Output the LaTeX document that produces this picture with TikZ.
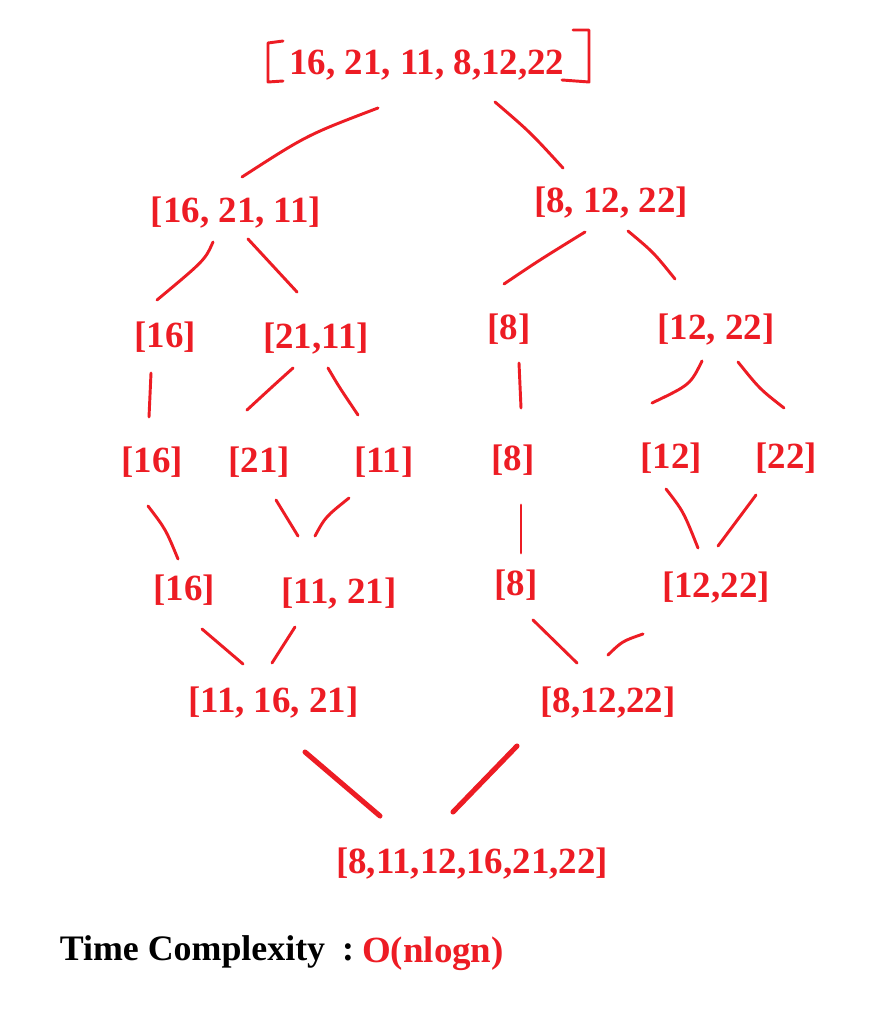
\documentclass[tikz,border=0pt]{standalone}
\usepackage{fontspec}
\setmainfont{Liberation Serif}
\definecolor{pred}{RGB}{237,28,36}
\tikzset{
  lbl/.style={anchor=base, inner sep=0pt, text=pred, font=\fontsize{27.7pt}{32pt}\selectfont\bfseries},
  blk/.style={anchor=base, inner sep=0pt, text=black, font=\fontsize{26.9pt}{32pt}\selectfont\bfseries},
  conn/.style={draw=pred, line width=2.2pt, line cap=round, line join=round},
  thick conn/.style={draw=pred, line width=3.8pt, line cap=round}
}
\begin{document}
\begin{tikzpicture}[x=0.75pt, y=-0.75pt]
\fill[white] (0,0) rectangle (875,1020);
\useasboundingbox (0,0) rectangle (875,1020);

% nodes
\node[lbl] (top) at (427,75) {16, 21, 11, 8,12,22};
\node[lbl] (L) at (236,222) {[16, 21, 11]};
\node[lbl] (R) at (611,212) {[8, 12, 22]};
\node[lbl] (LL) at (165,347) {[16]};
\node[lbl] (LR) at (316,348) {[21,11]};
\node[lbl] (RL) at (509,339) {[8]};
\node[lbl] (RR) at (716,339) {[12, 22]};
\node[lbl] (a16) at (152,472) {[16]};
\node[lbl] (a21) at (259,472) {[21]};
\node[lbl] (a11) at (384,472) {[11]};
\node[lbl] (a8) at (513,470) {[8]};
\node[lbl] (a12) at (671,468) {[12]};
\node[lbl] (a22) at (786,468) {[22]};
\node[lbl] (b16) at (184,600) {[16]};
\node[lbl] (b1121) at (339,603) {[11, 21]};
\node[lbl] (b8) at (516,595) {[8]};
\node[lbl] (b1222) at (716,597) {[12,22]};
\node[lbl] (c1) at (273.5,712) {[11, 16, 21]};
\node[lbl] (c2) at (608,712) {[8,12,22]};
\node[lbl] (fin) at (472,873) {[8,11,12,16,21,22]};
\node[blk] (tc) at (192.5,960) {Time Complexity};
\node[blk] (colon) at (348,960) {:};
\node[lbl] (on) at (433,962) {O(nlogn)};

% hand-drawn brackets around the top list
\coordinate (lb1) at (283,41); \coordinate (lb2) at (268,43);
\coordinate (lb3) at (268,82); \coordinate (lb4) at (283,81);
\coordinate (rb1) at (573,30); \coordinate (rb2) at (589,30);
\coordinate (rb3) at (589,82); \coordinate (rb4) at (562,80);
\draw[conn] (lb1) -- (lb2) -- (lb3) -- (lb4);
\draw[conn] (rb1) -- (rb2) -- (rb3) -- (rb4);

% connector end points
\coordinate (e1a) at (378,108); \coordinate (e1b) at (242,177);
\coordinate (e2a) at (495,102); \coordinate (e2b) at (563,168);
\coordinate (e3a) at (213,242); \coordinate (e3b) at (157,300);
\coordinate (e4a) at (248,239); \coordinate (e4b) at (297,292);
\coordinate (e5a) at (585,232); \coordinate (e5b) at (504,284);
\coordinate (e6a) at (628,231); \coordinate (e6b) at (675,279);
\coordinate (e7a) at (151,373); \coordinate (e7b) at (149,417);
\coordinate (e8a) at (293,368); \coordinate (e8b) at (247,410);
\coordinate (e9a) at (328,368); \coordinate (e9b) at (358,415);
\coordinate (e10a) at (519,363); \coordinate (e10b) at (521,408);
\coordinate (e11a) at (702,361); \coordinate (e11b) at (652,403);
\coordinate (e12a) at (738,362); \coordinate (e12b) at (784,408);
\coordinate (e13a) at (148,506); \coordinate (e13b) at (178,559);
\coordinate (e14a) at (276,500); \coordinate (e14b) at (298,536);
\coordinate (e15a) at (349,498); \coordinate (e15b) at (315,536);
\coordinate (e16a) at (521,505); \coordinate (e16b) at (521,553);
\coordinate (e17a) at (666,489); \coordinate (e17b) at (698,548);
\coordinate (e18a) at (756,495); \coordinate (e18b) at (718,546);
\coordinate (e19a) at (202,629); \coordinate (e19b) at (243,664);
\coordinate (e20a) at (295,627); \coordinate (e20b) at (272,663);
\coordinate (e21a) at (533,620); \coordinate (e21b) at (577,663);
\coordinate (e22a) at (643,634); \coordinate (e22b) at (608,655);
\coordinate (e23a) at (305,752); \coordinate (e23b) at (380,816);
\coordinate (e24a) at (517,746); \coordinate (e24b) at (453,812);

% connectors
\draw[conn] (e1a) .. controls (307,135) .. (e1b);
\draw[conn] (e2a) .. controls (530,132) .. (e2b);
\draw[conn] (e3a) .. controls (205,260) .. (e3b);
\draw[conn] (e4a) -- (e4b);
\draw[conn] (e5a) .. controls (538.5,260.7) .. (e5b);
\draw[conn] (e6a) .. controls (653.5,252.3) .. (e6b);
\draw[conn] (e7a) -- (e7b);
\draw[conn] (e8a) .. controls (272.7,386.3) .. (e8b);
\draw[conn] (e9a) .. controls (339,386.8) .. (e9b);
\draw[conn] (e10a) -- (e10b);
\draw[conn] (e11a) .. controls (690.3,384.7) .. (e11b);
\draw[conn] (e12a) .. controls (759.7,389) .. (e12b);
\draw[conn] (e13a) .. controls (165.7,529.2) .. (e13b);
\draw[conn] (e14a) -- (e14b);
\draw[conn] (e15a) .. controls (325.3,517) .. (e15b);
\draw[conn] (e16a) -- (e16b);
\draw[conn] (e17a) .. controls (683.3,511.2) .. (e17b);
\draw[conn] (e18a) -- (e18b);
\draw[conn] (e19a) -- (e19b);
\draw[conn] (e20a) -- (e20b);
\draw[conn] (e21a) -- (e21b);
\draw[conn] (e22a) .. controls (622.2,641.2) .. (e22b);
\draw[thick conn] (e23a) -- (e23b);
\draw[thick conn] (e24a) -- (e24b);
\end{tikzpicture}
\end{document}
